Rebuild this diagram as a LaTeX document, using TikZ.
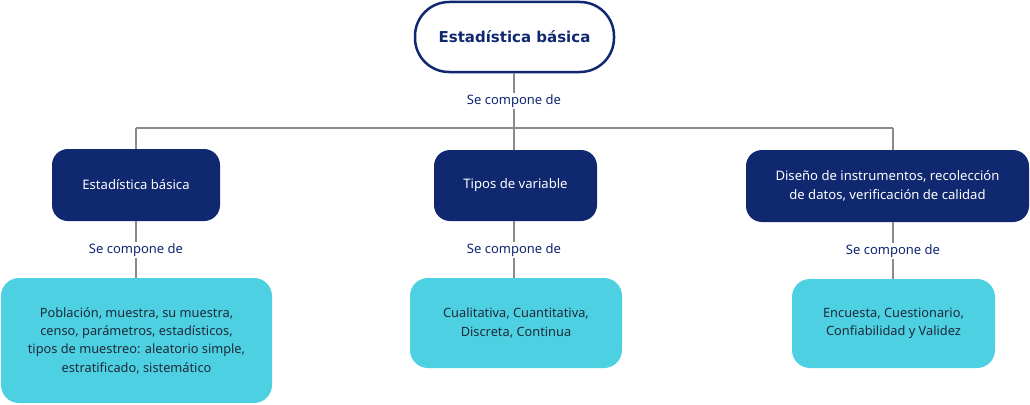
\documentclass[tikz,border=0pt]{standalone}
\usepackage{fontspec}
\setmainfont{Noto Sans}
\newfontfamily\titlefont{DejaVu Sans}
\definecolor{navy}{HTML}{0F2870}
\definecolor{cyanbox}{HTML}{4DD0E1}
\definecolor{darktext}{HTML}{1E2A3A}
\definecolor{linegray}{HTML}{8A8A8A}
\tikzset{
  topbox/.style={draw=navy, line width=2.5pt, fill=white, rounded corners=34pt, text=navy, font=\titlefont\fontsize{15}{20}\selectfont\bfseries, align=center, inner sep=0pt},
  midbox/.style={fill=navy, rounded corners=16pt, text=white, font=\fontsize{13.1}{19}\selectfont, align=center, inner sep=0pt},
  lowbox/.style={fill=cyanbox, rounded corners=18pt, text=darktext, font=\fontsize{12.8}{18.3}\selectfont, align=center, inner sep=0pt},
  lbl/.style={fill=white, text=navy, font=\fontsize{13}{15}\selectfont, inner sep=1.5pt},
  conn/.style={draw=linegray, line width=1.2pt}
}
\begin{document}
\begin{tikzpicture}[x=1pt,y=-1pt]
\useasboundingbox (0,0) rectangle (1030,404);
% top
\node[topbox, minimum width=199pt, minimum height=70pt] (top) at (514.5,37) {Estadística básica};
% mids
\node[midbox, minimum width=168pt, minimum height=72pt] (m1) at (136,185) {Estadística básica};
\node[midbox, minimum width=163pt, minimum height=71pt] (m2) at (515.5,185.5) {Tipos de variable};
\node[midbox, minimum width=283pt, minimum height=72pt] (m3) at (887.5,186) {Diseño de instrumentos, recolección\\de datos, verificación de calidad};
% lows
\node[lowbox, minimum width=271pt, minimum height=125pt] (l1) at (136.5,340.5) {Población, muestra, su muestra,\\censo, parámetros, estadísticos,\\tipos de muestreo: aleatorio simple,\\estratificado, sistemático};
\node[lowbox, minimum width=212pt, minimum height=90pt] (l2) at (516,323) {Cualitativa, Cuantitativa,\\Discreta, Continua};
\node[lowbox, minimum width=203pt, minimum height=89pt] (l3) at (893.5,323.5) {Encuesta, Cuestionario,\\Confiabilidad y Validez};
% junction coordinates
\coordinate (jc) at (514,128);
\coordinate (jl) at (136,128);
\coordinate (jr) at (893,128);
\draw[conn] (top.south -| jc) -- (jc);
\draw[conn] (jl) -- (jr);
\draw[conn] (jl) -- (jl |- m1.north);
\draw[conn] (jc) -- (jc |- m2.north);
\draw[conn] (jr) -- (jr |- m3.north);
\draw[conn] (m1.south -| jl) -- (jl |- l1.north);
\draw[conn] (jc |- m2.south) -- (jc |- l2.north);
\draw[conn] (jr |- m3.south) -- (jr |- l3.north);
\node[lbl] (s0) at (514,101) {Se compone de};
\node[lbl] (s1) at (136,250) {Se compone de};
\node[lbl] (s2) at (514,250) {Se compone de};
\node[lbl] (s3) at (893,251) {Se compone de};
\end{tikzpicture}
\end{document}
